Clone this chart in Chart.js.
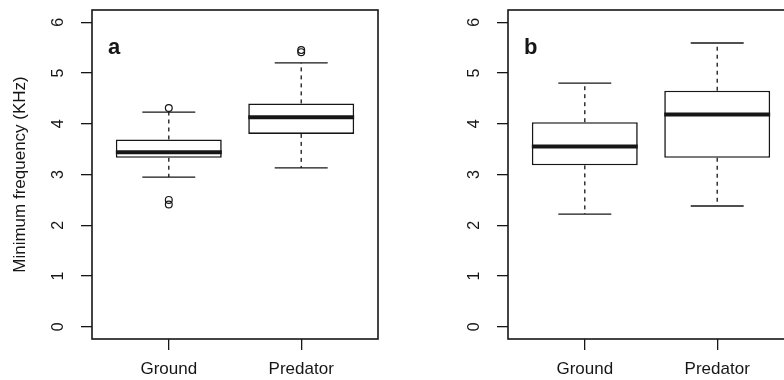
<!DOCTYPE html>
<html>
<head>
<meta charset="utf-8">
<script src="https://cdn.jsdelivr.net/npm/chart.js@4.4.1/dist/chart.umd.min.js"></script>
<style>
  html, body { margin: 0; padding: 0; background: #fff; overflow: hidden; }
  body { width: 784px; height: 380px; position: relative; }
  .panel { position: absolute; top: 0; width: 392px; height: 380px; }
  #panelA { left: 0; }
  #panelB { left: 416px; }
</style>
</head>
<body>
<div class="panel" id="panelA"><canvas id="chartA" width="392" height="380"></canvas></div>
<div class="panel" id="panelB"><canvas id="chartB" width="392" height="380"></canvas></div>
<script>
const groups = ['Ground', 'Predator'];
const yTicks = [0, 1, 2, 3, 4, 5, 6];

// panel a: five-number summaries per group
const lowA = [2.95, 3.13];
const q1A = [3.33, 3.80];
const medA = [3.44, 4.13];
const q3A = [3.69, 4.40];
const highA = [4.23, 5.20];
const outGroundA = [4.31, 2.50, 2.41];
const outPredatorA = [5.41, 5.45];

// panel b
const lowB = [2.22, 2.38];
const q1B = [3.18, 3.33];
const medB = [3.55, 4.18];
const q3B = [4.03, 4.65];
const highB = [4.80, 5.59];
const outGroundB = [];
const outPredatorB = [];

const ink = '#161616';
Chart.defaults.font.family = '"Liberation Sans", Arial, sans-serif';
Chart.defaults.color = ink;

// whiskers, staples, medians, the plot frame and the panel letter
function boxExtras(letter, low, med, q1, q3, high) {
    return {
        id: 'boxExtras',
        afterDatasetsDraw(chart) {
            const {ctx, chartArea: area, scales: {x, y}} = chart;
            const bars = chart.getDatasetMeta(0).data;
            const seg = (x1, y1, x2, y2) => {
                ctx.beginPath();
                ctx.moveTo(x1, y1);
                ctx.lineTo(x2, y2);
                ctx.stroke();
            };
            ctx.save();
            ctx.strokeStyle = ink;
            bars.forEach((bar, i) => {
                const cx = x.getPixelForValue(i + 1);
                const half = bar.width / 2;
                const yLow = y.getPixelForValue(low[i]);
                const yHigh = y.getPixelForValue(high[i]);
                ctx.lineWidth = 1.3;
                ctx.setLineDash([4, 4]);
                seg(cx, y.getPixelForValue(q3[i]), cx, yHigh);
                seg(cx, y.getPixelForValue(q1[i]), cx, yLow);
                ctx.setLineDash([]);
                seg(cx - half / 2, yHigh, cx + half / 2, yHigh);
                seg(cx - half / 2, yLow, cx + half / 2, yLow);
                ctx.lineWidth = 4;
                const ym = y.getPixelForValue(med[i]);
                seg(cx - half, ym, cx + half, ym);
            });
            ctx.lineWidth = 1.6;
            ctx.strokeRect(area.left, area.top, area.width, area.height);
            ctx.fillStyle = ink;
            ctx.font = 'bold 22px "Liberation Sans", Arial, sans-serif';
            ctx.textBaseline = 'alphabetic';
            ctx.fillText(letter, area.left + 16, area.top + 44);
            ctx.restore();
        }
    };
}

// no extra room around the axes beyond the layout padding
function noScalePadding(s) {
    s.paddingTop = 0;
    s.paddingBottom = 0;
    s.paddingLeft = 0;
    s.paddingRight = 0;
}

function makePanel(id, letter, low, q1, med, q3, high, outGround, outPredator, showTitle) {
    const outliers = outGround.map(v => ({x: 1, y: v}))
        .concat(outPredator.map(v => ({x: 2, y: v})));
    return new Chart(document.getElementById(id), {
        type: 'bar',
        data: {
            datasets: [{
                data: groups.map((g, i) => ({x: i + 1, y: [q1[i], q3[i]]})),
                backgroundColor: '#ffffff',
                borderColor: ink,
                borderWidth: 1.6,
                borderSkipped: false,
                barPercentage: 0.8,
                categoryPercentage: 1,
            }, {
                type: 'scatter',
                data: outliers,
                pointStyle: 'circle',
                pointRadius: 3.4,
                borderColor: ink,
                backgroundColor: 'rgba(0,0,0,0)',
                borderWidth: 1.2,
            }]
        },
        options: {
            responsive: false,
            animation: false,
            layout: { padding: { left: 0, top: 10, right: 14, bottom: 0 } },
            scales: {
                x: {
                    type: 'linear',
                    min: 0.42,
                    max: 2.58,
                    offset: false,
                    afterBuildTicks: s => { s.ticks = groups.map((g, i) => ({value: i + 1})); },
                    afterFit: s => { s.height = 41; noScalePadding(s); },
                    ticks: {
                        callback: v => groups[v - 1],
                        autoSkip: false,
                        maxRotation: 0,
                        padding: 9,
                        color: ink,
                        font: { size: 17 }
                    },
                    grid: { drawOnChartArea: false, offset: false, tickLength: 11, color: ink, lineWidth: 1.3 },
                    border: { display: false }
                },
                y: {
                    min: -0.24,
                    max: 6.24,
                    afterBuildTicks: s => { s.ticks = yTicks.map(v => ({value: v})); },
                    afterFit: s => { s.width = 92; noScalePadding(s); },
                    ticks: {
                        minRotation: 90,
                        maxRotation: 90,
                        crossAlign: 'center',
                        padding: 18,
                        color: ink,
                        font: { size: 16 }
                    },
                    grid: { drawOnChartArea: false, tickLength: 11, color: ink, lineWidth: 1.3 },
                    border: { display: false },
                    title: {
                        display: showTitle,
                        text: 'Minimum frequency (KHz)',
                        color: ink,
                        font: { size: 17 },
                        padding: { top: 10, bottom: 0 }
                    }
                }
            },
            plugins: {
                legend: { display: false },
                tooltip: { enabled: false }
            }
        },
        plugins: [boxExtras(letter, low, med, q1, q3, high)]
    });
}

makePanel('chartA', 'a', lowA, q1A, medA, q3A, highA, outGroundA, outPredatorA, true);
makePanel('chartB', 'b', lowB, q1B, medB, q3B, highB, outGroundB, outPredatorB, false);
</script>
</body>
</html>
